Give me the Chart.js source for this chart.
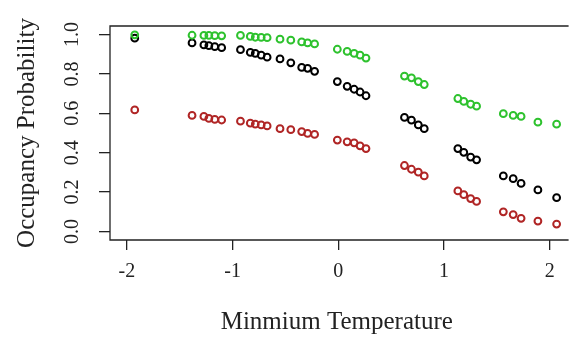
<!DOCTYPE html>
<html>
<head>
<meta charset="utf-8">
<script src="https://cdn.jsdelivr.net/npm/chart.js@4/dist/chart.umd.min.js"></script>
<style>
  html, body { margin: 0; padding: 0; background: #fff; overflow: hidden; }
  #wrap { width: 569px; height: 337px; }
</style>
</head>
<body>
<div id="wrap"><canvas id="c" width="569" height="337"></canvas></div>
<script>
// Minimum temperature (standardised) values
const temperature = [
  -1.925,
  -1.383, -1.271, -1.224, -1.168, -1.103,
  -0.925, -0.832, -0.785, -0.729, -0.673,
  -0.551, -0.449, -0.346, -0.290, -0.224,
  -0.009, 0.084, 0.150, 0.206, 0.262,
  0.626, 0.692, 0.757, 0.813,
  1.131, 1.187, 1.252, 1.308,
  1.561, 1.654, 1.729, 1.888, 2.065
];
// Occupancy probability: upper bound (green)
const upperProb = [
  0.998,
  0.996, 0.995, 0.995, 0.994, 0.993,
  0.995, 0.990, 0.986, 0.985, 0.984,
  0.976, 0.971, 0.962, 0.957, 0.952,
  0.925, 0.914, 0.904, 0.895, 0.880,
  0.789, 0.780, 0.761, 0.746,
  0.675, 0.660, 0.646, 0.636,
  0.598, 0.589, 0.584, 0.555, 0.545
];
// Occupancy probability: estimate (black)
const meanProb = [
  0.981,
  0.957, 0.947, 0.943, 0.938, 0.933,
  0.923, 0.909, 0.904, 0.895, 0.885,
  0.876, 0.856, 0.833, 0.828, 0.813,
  0.761, 0.737, 0.722, 0.708, 0.689,
  0.579, 0.565, 0.541, 0.522,
  0.421, 0.402, 0.378, 0.364,
  0.282, 0.268, 0.244, 0.211, 0.172
];
// Occupancy probability: lower bound (red)
const lowerProb = [
  0.617,
  0.589, 0.584, 0.574, 0.569, 0.566,
  0.560, 0.550, 0.545, 0.541, 0.536,
  0.522, 0.517, 0.507, 0.498, 0.493,
  0.464, 0.455, 0.450, 0.435, 0.421,
  0.335, 0.316, 0.301, 0.282,
  0.206, 0.187, 0.167, 0.153,
  0.100, 0.086, 0.067, 0.053, 0.038
];
const xTicks = [-2, -1, 0, 1, 2];
const yTicks = [0.0, 0.2, 0.4, 0.6, 0.8, 1.0];
const xTitle = "Minmium Temperature";
const yTitle = "Occupancy Probability";

function pts(ys) { return temperature.map((x, i) => ({ x: x, y: ys[i] })); }
function ds(ys, color) {
  return {
    data: pts(ys),
    showLine: false,
    pointStyle: 'circle',
    pointRadius: 3.4,
    pointBorderWidth: 2,
    pointBackgroundColor: 'rgba(0,0,0,0)',
    pointBorderColor: color,
    pointHoverRadius: 3.4
  };
}

const frame = {
  id: 'frame',
  afterDraw(chart) {
    const a = chart.chartArea, ctx = chart.ctx;
    ctx.save();
    ctx.strokeStyle = '#222';
    ctx.lineWidth = 1.3;
    ctx.beginPath();
    ctx.moveTo(a.right + 5, a.top);
    ctx.lineTo(a.left, a.top);
    ctx.lineTo(a.left, a.bottom);
    ctx.lineTo(a.right + 5, a.bottom);
    ctx.stroke();
    ctx.restore();
  }
};

const serif = "'Liberation Serif', 'Times New Roman', serif";

new Chart(document.getElementById('c'), {
  type: 'scatter',
  data: {
    datasets: [
      ds(upperProb, '#2ec22e'),
      ds(meanProb, '#000000'),
      ds(lowerProb, '#b02525')
    ]
  },
  options: {
    responsive: false,
    animation: false,
    events: [],
    layout: { padding: { left: 0, right: 0, top: 13, bottom: 0 } },
    plugins: { legend: { display: false }, tooltip: { enabled: false } },
    scales: {
      x: {
        type: 'linear',
        min: -2.159,
        max: 2.131,
        afterBuildTicks: s => { s.ticks = xTicks.map(v => ({ value: v })); },
        afterFit: s => { s.height = 97; },
        grid: { drawOnChartArea: false, drawTicks: true, tickLength: 10, color: '#222', lineWidth: 1.3 },
        border: { display: false },
        ticks: {
          color: '#222',
          padding: 10,
          maxRotation: 0,
          autoSkip: false,
          font: { family: serif, size: 20 },
          callback: v => String(v)
        },
        title: {
          display: true,
          text: xTitle,
          color: '#222',
          font: { family: serif, size: 25 },
          padding: { top: 0, bottom: 0 }
        }
      },
      y: {
        type: 'linear',
        min: -0.043,
        max: 1.043,
        afterBuildTicks: s => { s.ticks = yTicks.map(v => ({ value: v })); },
        afterFit: s => { s.width = 110; },
        grid: { drawOnChartArea: false, drawTicks: true, tickLength: 11, color: '#222', lineWidth: 1.3 },
        border: { display: false },
        ticks: {
          color: '#222',
          padding: 14,
          minRotation: 90,
          maxRotation: 90,
          crossAlign: 'center',
          autoSkip: false,
          font: { family: serif, size: 20 },
          callback: v => v.toFixed(1)
        },
        title: {
          display: true,
          text: yTitle,
          color: '#222',
          font: { family: serif, size: 25 },
          padding: { top: 12, bottom: 0 }
        }
      }
    }
  },
  plugins: [frame]
});
</script>
</body>
</html>
